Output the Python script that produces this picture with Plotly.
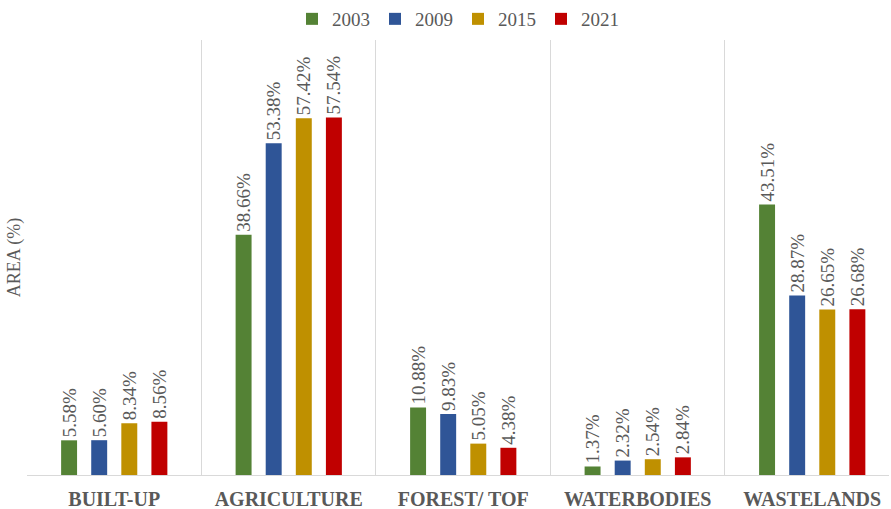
import plotly.graph_objects as go

categories = ["BUILT-UP", "AGRICULTURE", "FOREST/ TOF", "WATERBODIES", "WASTELANDS"]
years = ["2003", "2009", "2015", "2021"]
v2003 = [5.58, 38.66, 10.88, 1.37, 43.51]
v2009 = [5.60, 53.38, 9.83, 2.32, 28.87]
v2015 = [8.34, 57.42, 5.05, 2.54, 26.65]
v2021 = [8.56, 57.54, 4.38, 2.84, 26.68]
series = [v2003, v2009, v2015, v2021]
colors = ["#548235", "#2F5597", "#BF9000", "#C00000"]

FONT = "Liberation Serif"
GRAY = "#595959"

fig = go.Figure()
for name, vals, col in zip(years, series, colors):
    fig.add_trace(go.Bar(
        x=categories, y=vals, name=name,
        marker=dict(color=col, line=dict(width=0)),
        texttemplate="%{y:.2f}%", textposition="outside", textangle=-90,
        constraintext="none", cliponaxis=False,
        textfont=dict(family=FONT, size=19, color=GRAY),
        outsidetextfont=dict(family=FONT, size=19, color=GRAY),
    ))

fig.update_layout(
    width=891, height=509,
    margin=dict(l=27, r=2, t=40, b=34),
    paper_bgcolor="white", plot_bgcolor="white",
    barmode="group", bargap=0.31, bargroupgap=0.47,
    font=dict(family=FONT, color=GRAY, size=18),
    showlegend=True,
    legend=dict(orientation="h", x=0.5, xanchor="center", y=1.0, yanchor="top",
                yref="container", font=dict(family=FONT, size=19, color=GRAY),
                itemwidth=30, traceorder="normal"),
    xaxis=dict(
        type="category", tickson="boundaries", showgrid=True,
        gridcolor="#D9D9D9", gridwidth=1, ticks="", showline=True,
        linecolor="#D9D9D9", linewidth=1,
        tickfont=dict(family=FONT, size=20, color=GRAY, weight="bold"),
        ticklabelstandoff=6, automargin=False,
        range=[-0.5, 4.44],
    ),
    yaxis=dict(
        range=[0, 70], showgrid=False, showticklabels=False, zeroline=False,
        automargin=False,
        title=dict(text="AREA (%)", font=dict(family=FONT, size=18, color=GRAY), standoff=0),
    ),
)

fig.write_html("out.html")
